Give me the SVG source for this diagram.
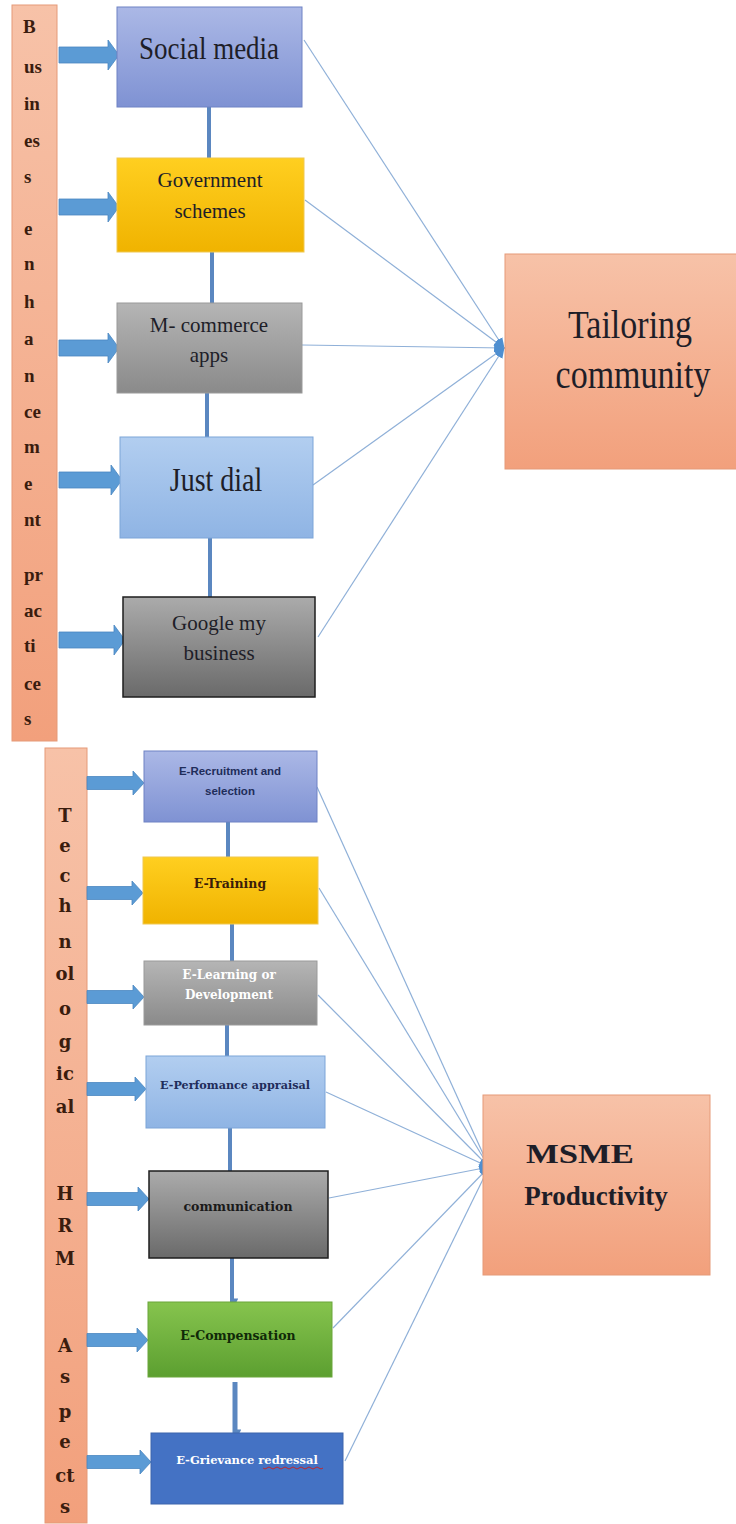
<svg xmlns="http://www.w3.org/2000/svg" width="736" height="1524" viewBox="0 0 736 1524">
<defs>
<linearGradient id="gOrange" x1="0" y1="0" x2="0" y2="1"><stop offset="0" stop-color="#f7c2a8"/><stop offset="1" stop-color="#f2a07c"/></linearGradient>
<linearGradient id="gPurple" x1="0" y1="0" x2="0" y2="1"><stop offset="0" stop-color="#abb8e6"/><stop offset="1" stop-color="#7f92d3"/></linearGradient>
<linearGradient id="gGold" x1="0" y1="0" x2="0" y2="1"><stop offset="0" stop-color="#ffcf20"/><stop offset="1" stop-color="#f0b300"/></linearGradient>
<linearGradient id="gGray" x1="0" y1="0" x2="0" y2="1"><stop offset="0" stop-color="#b5b5b5"/><stop offset="1" stop-color="#8a8a8a"/></linearGradient>
<linearGradient id="gLBlue" x1="0" y1="0" x2="0" y2="1"><stop offset="0" stop-color="#b2cef0"/><stop offset="1" stop-color="#8fb4e4"/></linearGradient>
<linearGradient id="gDGray" x1="0" y1="0" x2="0" y2="1"><stop offset="0" stop-color="#ababab"/><stop offset="1" stop-color="#6a6a6a"/></linearGradient>
<linearGradient id="gGreen" x1="0" y1="0" x2="0" y2="1"><stop offset="0" stop-color="#86c44e"/><stop offset="1" stop-color="#5c9f30"/></linearGradient>
<marker id="conv" viewBox="0 0 10 10" refX="9" refY="5" markerWidth="11" markerHeight="11" markerUnits="userSpaceOnUse" orient="auto"><path d="M0,1 L10,5 L0,9 z" fill="#4f8fd0"/></marker>
<marker id="down" viewBox="0 0 10 10" refX="5" refY="9" markerWidth="9" markerHeight="7" markerUnits="userSpaceOnUse" orient="auto"><path d="M0,0 L10,5 L0,10 z" fill="#5b87c0"/></marker>
<style>
.bar{fill:url(#gOrange);stroke:#e59a78;stroke-width:1}
.b1{font-family:"Liberation Serif",serif;font-weight:bold;font-size:19px;fill:#3a1c0e}
.b2{font-family:"DejaVu Serif","Liberation Serif",serif;font-weight:bold;font-size:18px;fill:#3a1c0e;text-anchor:middle}
.lbl{font-family:"Liberation Serif",serif;fill:#1e1e28;text-anchor:middle}
.sm{font-family:"DejaVu Serif","Liberation Serif",serif;font-weight:bold;text-anchor:middle}
.blk{fill:#5b9bd5;stroke:#4a86c0;stroke-width:0.8}
.vc{stroke:#5b87c0;stroke-width:4;fill:none}
.ln{stroke:#8fb0d8;stroke-width:1.2;fill:none;marker-end:url(#conv)}
</style>
</defs>

<g id="bar-business">
<rect class="bar" x="12" y="5" width="45" height="736"/>
<text class="b1" x="23" y="33">B</text>
<text class="b1" x="24" y="73">us</text>
<text class="b1" x="24" y="110">in</text>
<text class="b1" x="24" y="147">es</text>
<text class="b1" x="24" y="183">s</text>
<text class="b1" x="24" y="235">e</text>
<text class="b1" x="24" y="270">n</text>
<text class="b1" x="24" y="308">h</text>
<text class="b1" x="24" y="345">a</text>
<text class="b1" x="24" y="382">n</text>
<text class="b1" x="24" y="418">ce</text>
<text class="b1" x="24" y="453">m</text>
<text class="b1" x="24" y="490">e</text>
<text class="b1" x="24" y="526">nt</text>
<text class="b1" x="24" y="581">pr</text>
<text class="b1" x="24" y="617">ac</text>
<text class="b1" x="24" y="652">ti</text>
<text class="b1" x="24" y="690">ce</text>
<text class="b1" x="24" y="725">s</text>
</g>

<g id="bar-hrm">
<rect class="bar" x="45" y="748" width="42" height="775"/>
<text class="b2" x="65" y="822">T</text>
<text class="b2" x="65" y="852">e</text>
<text class="b2" x="65" y="882">c</text>
<text class="b2" x="65" y="912">h</text>
<text class="b2" x="65" y="948">n</text>
<text class="b2" x="65" y="980">ol</text>
<text class="b2" x="65" y="1015">o</text>
<text class="b2" x="65" y="1048">g</text>
<text class="b2" x="65" y="1080">ic</text>
<text class="b2" x="65" y="1113">al</text>
<text class="b2" x="65" y="1200">H</text>
<text class="b2" x="65" y="1232">R</text>
<text class="b2" x="65" y="1265">M</text>
<text class="b2" x="65" y="1352">A</text>
<text class="b2" x="65" y="1383">s</text>
<text class="b2" x="65" y="1418">p</text>
<text class="b2" x="65" y="1448">e</text>
<text class="b2" x="65" y="1482">ct</text>
<text class="b2" x="65" y="1513">s</text>
</g>

<g id="connectors">
<line class="vc" x1="209" y1="107" x2="209" y2="158"/>
<line class="vc" x1="212" y1="252" x2="212" y2="303"/>
<line class="vc" x1="207" y1="393" x2="207" y2="437"/>
<line class="vc" x1="210" y1="538" x2="210" y2="597"/>
<line class="vc" x1="228" y1="822" x2="228" y2="857"/>
<line class="vc" x1="232" y1="924" x2="232" y2="961"/>
<line class="vc" x1="227" y1="1025" x2="227" y2="1056"/>
<line class="vc" x1="230" y1="1128" x2="230" y2="1171"/>
<line class="vc" x1="232" y1="1258" x2="232" y2="1302" marker-end="url(#down)"/>
<line class="vc" x1="235" y1="1382" x2="235" y2="1433" style="stroke-width:5" marker-end="url(#down)"/>

<polygon class="blk" points="59,47 108,47 108,40 119,55 108,70 108,63 59,63"/>
<polygon class="blk" points="59,199 108,199 108,192 119,207 108,222 108,215 59,215"/>
<polygon class="blk" points="59,340 108,340 108,333 119,348 108,363 108,356 59,356"/>
<polygon class="blk" points="59,472 111,472 111,465 122,480 111,495 111,488 59,488"/>
<polygon class="blk" points="59,632 114,632 114,625 125,640 114,655 114,648 59,648"/>

<polygon class="blk" points="87,776.5 133,776.5 133,771 144,783 133,795 133,789.5 87,789.5"/>
<polygon class="blk" points="87,886.5 132,886.5 132,881 143,893 132,905 132,899.5 87,899.5"/>
<polygon class="blk" points="87,990.5 133,990.5 133,985 144,997 133,1009 133,1003.5 87,1003.5"/>
<polygon class="blk" points="87,1082.5 135,1082.5 135,1077 146,1089 135,1101 135,1095.5 87,1095.5"/>
<polygon class="blk" points="87,1192.5 138,1192.5 138,1187 149,1199 138,1211 138,1205.5 87,1205.5"/>
<polygon class="blk" points="87,1333.5 137,1333.5 137,1328 148,1340 137,1352 137,1346.5 87,1346.5"/>
<polygon class="blk" points="87,1455.5 140,1455.5 140,1450 151,1462 140,1474 140,1468.5 87,1468.5"/>

<line class="ln" x1="304" y1="40" x2="504" y2="348"/>
<line class="ln" x1="305" y1="200" x2="504" y2="348"/>
<line class="ln" x1="302" y1="345" x2="504" y2="348"/>
<line class="ln" x1="313" y1="485" x2="504" y2="348"/>
<line class="ln" x1="318" y1="637" x2="504" y2="348"/>

<line class="ln" x1="317" y1="787" x2="489" y2="1167"/>
<line class="ln" x1="319" y1="888" x2="489" y2="1167"/>
<line class="ln" x1="318" y1="995" x2="489" y2="1167"/>
<line class="ln" x1="326" y1="1092" x2="489" y2="1167"/>
<line class="ln" x1="329" y1="1198" x2="489" y2="1167"/>
<line class="ln" x1="333" y1="1328" x2="489" y2="1167"/>
<line class="ln" x1="345" y1="1461" x2="489" y2="1167"/>
</g>

<g id="social-media">
<rect x="117" y="7" width="185" height="100" fill="url(#gPurple)" stroke="#6e82c4"/>
<text class="lbl" transform="translate(209,59) scale(1,1.2)" font-size="27" fill="#1b2040">Social media</text>
</g>
<g id="government-schemes">
<rect x="117" y="158" width="187" height="94" fill="url(#gGold)" stroke="#f0c850"/>
<text class="lbl" x="210" y="187" font-size="21">Government</text>
<text class="lbl" x="210" y="218" font-size="21">schemes</text>
</g>
<g id="m-commerce">
<rect x="117" y="303" width="185" height="90" fill="url(#gGray)" stroke="#9a9a9a"/>
<text class="lbl" x="209" y="332" font-size="21">M- commerce</text>
<text class="lbl" x="209" y="362" font-size="21">apps</text>
</g>
<g id="just-dial">
<rect x="120" y="437" width="193" height="101" fill="url(#gLBlue)" stroke="#7da5d8"/>
<text class="lbl" transform="translate(216,491) scale(1,1.2)" font-size="28">Just dial</text>
</g>
<g id="google-my-business">
<rect x="123" y="597" width="192" height="100" fill="url(#gDGray)" stroke="#1e1e1e" stroke-width="1.5"/>
<text class="lbl" x="219" y="630" font-size="21">Google my</text>
<text class="lbl" x="219" y="660" font-size="21">business</text>
</g>
<g id="tailoring-community">
<rect x="505" y="254" width="235" height="215" fill="url(#gOrange)" stroke="#e59a78"/>
<text class="lbl" transform="translate(630,338) scale(1,1.15)" font-size="34" fill="#2a1610">Tailoring</text>
<text class="lbl" transform="translate(633,388) scale(1,1.15)" font-size="34" fill="#2a1610">community</text>
</g>

<g id="e-recruitment">
<rect x="144" y="751" width="173" height="71" fill="url(#gPurple)" stroke="#6e82c4"/>
<text x="230" y="775" font-family="Liberation Sans, Arial, sans-serif" font-weight="bold" font-size="11.5" fill="#1f2d5a" text-anchor="middle">E-Recruitment and</text>
<text x="230" y="795" font-family="Liberation Sans, Arial, sans-serif" font-weight="bold" font-size="11.5" fill="#1f2d5a" text-anchor="middle">selection</text>
</g>
<g id="e-training">
<rect x="143" y="857" width="175" height="67" fill="url(#gGold)" stroke="#f0c850"/>
<text class="sm" x="230" y="888" font-size="12.5" fill="#3a1d0a">E-Training</text>
</g>
<g id="e-learning">
<rect x="144" y="961" width="173" height="64" fill="url(#gGray)" stroke="#9a9a9a"/>
<text class="sm" x="229" y="979" font-size="12" fill="#ffffff">E-Learning or</text>
<text class="sm" x="229" y="999" font-size="12" fill="#ffffff">Development</text>
</g>
<g id="e-performance">
<rect x="146" y="1056" width="179" height="72" fill="url(#gLBlue)" stroke="#7da5d8"/>
<text class="sm" x="235" y="1089" font-size="11.2" fill="#1f2d5a">E-Perfomance appraisal</text>
</g>
<g id="communication">
<rect x="149" y="1171" width="179" height="87" fill="url(#gDGray)" stroke="#1e1e1e" stroke-width="1.5"/>
<text class="sm" x="238" y="1211" font-size="12.5" fill="#1a1a1a">communication</text>
</g>
<g id="e-compensation">
<rect x="148" y="1302" width="184" height="75" fill="url(#gGreen)" stroke="#6aa63a"/>
<text class="sm" x="238" y="1340" font-size="12.5" fill="#102a08">E-Compensation</text>
</g>
<g id="e-grievance">
<rect x="151" y="1433" width="192" height="71" fill="#4472c4" stroke="#3c64ac"/>
<text class="sm" x="247" y="1464" font-size="11.5" fill="#ffffff">E-Grievance redressal</text>
<path d="M263,1468 q2,2 4,0 t4,0 t4,0 t4,0 t4,0 t4,0 t4,0 t4,0 t4,0 t4,0 t4,0 t4,0 t4,0 t4,0 t4,0" fill="none" stroke="#c0282d" stroke-width="1"/>
</g>
<g id="msme-productivity">
<rect x="483" y="1095" width="227" height="180" fill="url(#gOrange)" stroke="#e59a78"/>
<text class="lbl" x="580" y="1163" font-size="27" font-weight="bold" fill="#2a1610" textLength="108" lengthAdjust="spacingAndGlyphs">MSME</text>
<text class="lbl" x="596" y="1205" font-size="27" font-weight="bold" fill="#2a1610">Productivity</text>
</g>
</svg>
